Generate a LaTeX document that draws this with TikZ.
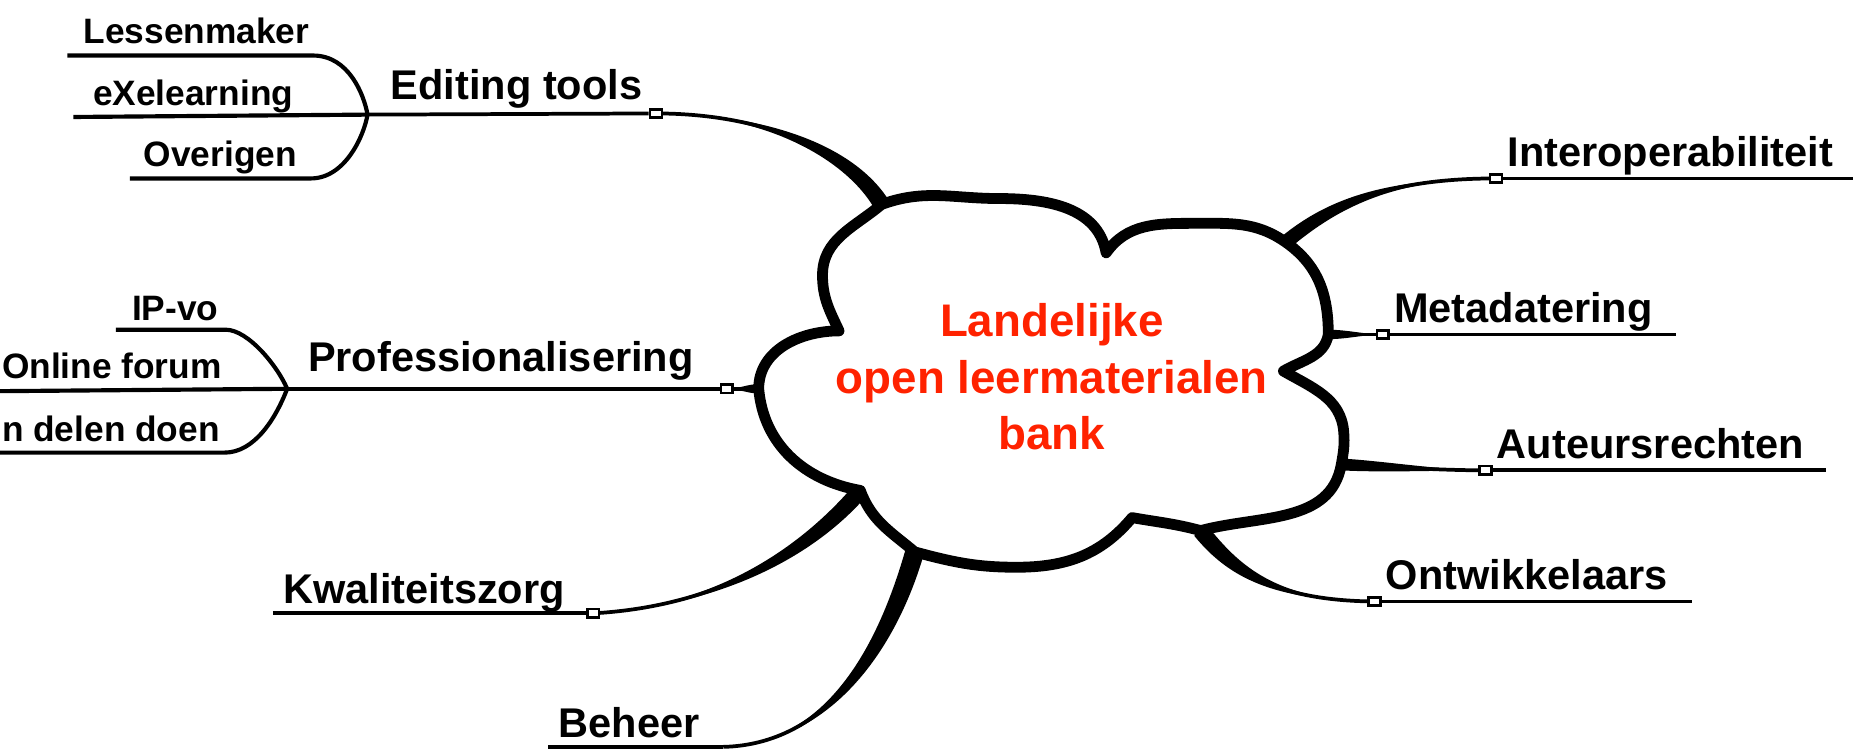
\documentclass[tikz,border=0pt]{standalone}
\usepackage{fontspec}
\setmainfont{Liberation Sans}
\usepackage{tikz}
\usetikzlibrary{calc,positioning}
\definecolor{corered}{RGB}{255,34,0}
\tikzset{
    topic/.style={font=\fontsize{10}{12}\selectfont\bfseries, inner sep=0pt},
    subtopic/.style={font=\fontsize{8.5}{10}\selectfont\bfseries, inner sep=0pt},
    core/.style={font=\fontsize{11}{13.5}\selectfont\bfseries, text=corered, align=center, inner sep=0pt},
    knob/.style={draw, fill=white, line width=0.6pt, minimum width=0.1cm, minimum height=0.07cm, inner sep=0pt},
    uline/.style={line width=0.9pt},
    subline/.style={line width=1pt},
    cloudline/.style={line width=2.6pt, line join=round},
}
% tapered branch: cloud point, control, control, knob point, half width
\newcommand{\cloudbranch}[5]{%
    \fill ($(#1)!#5!90:(#2)$) .. controls ($(#2)!#5!90:(#3)$) and (#3) .. (#4)
        .. controls (#3) and ($(#2)!#5!-90:(#3)$) .. ($(#1)!#5!-90:(#2)$) -- cycle;
    \draw[uline] (#1) .. controls (#2) and (#3) .. (#4);}

\begin{document}
\begin{tikzpicture}
    \useasboundingbox (0,0) rectangle (15.68,6.35);
    \clip (0,0) rectangle (15.68,6.35);
    \fill[white] (0,0) rectangle (15.68,6.35);

    % cloud
    \coordinate (cA) at (7.46,4.62);
    \coordinate (cN1) at (9.36,4.21);
    \coordinate (cB) at (10.88,4.30);
    \coordinate (cC) at (11.24,3.52);
    \coordinate (cN2) at (10.86,3.21);
    \coordinate (cD) at (11.35,2.42);
    \coordinate (cE) at (10.16,1.86);
    \coordinate (cN4) at (9.58,1.97);
    \coordinate (cF) at (7.74,1.68);
    \coordinate (cG) at (7.28,2.20);
    \coordinate (cH) at (6.42,3.06);
    \coordinate (cN3) at (7.10,3.55);
    \draw[cloudline, fill=white] (cA) to[out=20,in=180] (8.45,4.67) to[out=0,in=100] (cN1)
        to[out=55,in=180] (10.10,4.46) to[out=0,in=145] (cB)
        to[out=-35,in=90] (cC) to[out=-100,in=30] (cN2)
        to[out=-30,in=95] (11.37,2.70) to[out=-85,in=80] (cD)
        to[out=-100,in=15] (cE) to[out=165,in=-10] (cN4)
        to[out=-130,in=0] (8.60,1.55) to[out=180,in=-15] (cF)
        to[out=140,in=-70] (cG) to[out=170,in=-85] (cH)
        to[out=90,in=180] (cN3) to[out=115,in=-90] (6.96,4.02)
        to[out=90,in=-140] (cA) -- cycle;
    \node[core, anchor=base] (bank) at (8.90,2.55) {Landelijke\\open leermaterialen\\bank};

    % knob points
    \coordinate (edp) at (5.55,5.39);
    \coordinate (prp) at (6.15,3.06);
    \coordinate (kwp) at (5.02,1.16);
    \coordinate (behc) at (6.12,0.03);
    \coordinate (intp) at (12.66,4.84);
    \coordinate (metp) at (11.70,3.52);
    \coordinate (autp) at (12.57,2.37);
    \coordinate (ontp) at (11.63,1.26);

    % branches
    \cloudbranch{cA}{7.2,5.05}{6.5,5.39}{edp}{0.07cm}
    \cloudbranch{cH}{6.33,3.06}{6.25,3.06}{prp}{0.04cm}
    \cloudbranch{cG}{6.85,1.70}{6.10,1.22}{kwp}{0.07cm}
    \cloudbranch{cF}{7.50,0.85}{7.00,0.05}{behc}{0.08cm}
    \cloudbranch{cB}{11.30,4.65}{11.80,4.84}{intp}{0.06cm}
    \cloudbranch{cC}{11.40,3.52}{11.55,3.52}{metp}{0.04cm}
    \cloudbranch{cD}{11.70,2.40}{12.20,2.37}{autp}{0.05cm}
    \cloudbranch{cE}{10.45,1.50}{10.80,1.27}{ontp}{0.07cm}

    % right topics
    \foreach \nm/\xe/\txt in {int/15.70/Interoperabiliteit,
            met/14.18/Metadatering,
            aut/15.45/Auteursrechten,
            ont/14.32/Ontwikkelaars}{
        \node[knob] (\nm k) at (\nm p) {};
        \coordinate (\nm e) at (\xe,0 |- \nm p);
        \draw[uline] (\nm k) -- (\nm e);
        \node[topic, anchor=base west] (\nm) at ($(\nm p)+(0.09,0.10)$) {\txt};
    }

    % left topics
    \node[knob] (edk) at (edp) {};
    \node[knob] (prk) at (prp) {};
    \node[knob] (kwk) at (kwp) {};
    \coordinate (J1) at (3.11,5.38);
    \coordinate (J2) at (2.43,3.06);
    \coordinate (kwe) at (2.31,1.16);
    \coordinate (behe) at (4.64,0.03);
    \draw[uline] (J1) -- (edk);
    \draw[uline] (J2) -- (prk);
    \draw[uline] (kwe) -- (kwk);
    \draw[uline] (behe) -- (behc);
    \node[topic, anchor=base west] (edt) at (3.30,5.51) {Editing tools};
    \node[topic, anchor=base west] (prt) at (2.60,3.21) {Professionalisering};
    \node[topic, anchor=base west] (kwt) at (2.39,1.24) {Kwaliteitszorg};
    \node[topic, anchor=base west] (beh) at (4.72,0.11) {Beheer};

    % editing tools subtopics
    \coordinate (lesW) at (0.57,5.88);
    \coordinate (lesE) at (2.65,5.88);
    \coordinate (exeW) at (0.62,5.36);
    \coordinate (ovrW) at (1.10,4.84);
    \coordinate (ovrE) at (2.63,4.84);
    \draw[subline] (lesW) -- (lesE) .. controls (2.95,5.88) and (3.08,5.55) .. (J1)
        .. controls (3.08,5.20) and (2.92,4.84) .. (ovrE) -- (ovrW);
    \draw[subline] (exeW) -- (J1);
    \node[subtopic, anchor=base west] (les) at (0.70,5.98) {Lessenmaker};
    \node[subtopic, anchor=base west] (exe) at (0.78,5.46) {eXelearning};
    \node[subtopic, anchor=base west] (ovr) at (1.21,4.94) {Overigen};

    % professionalisering subtopics
    \coordinate (ipW) at (0.98,3.56);
    \coordinate (ipE) at (1.91,3.56);
    \coordinate (onW) at (0,3.04);
    \coordinate (ddW) at (0,2.52);
    \coordinate (ddE) at (1.90,2.52);
    \draw[subline] (ipW) -- (ipE) .. controls (2.10,3.56) and (2.35,3.25) .. (J2)
        .. controls (2.33,2.80) and (2.15,2.52) .. (ddE) -- (ddW);
    \draw[subline] (onW) -- (J2);
    \node[subtopic, anchor=base west] (ipv) at (1.11,3.64) {IP-vo};
    \node[subtopic, anchor=base west] (onf) at (0.01,3.15) {Online forum};
    \node[subtopic, anchor=base west] (ddn) at (0.01,2.61) {n delen doen};
\end{tikzpicture}
\end{document}
